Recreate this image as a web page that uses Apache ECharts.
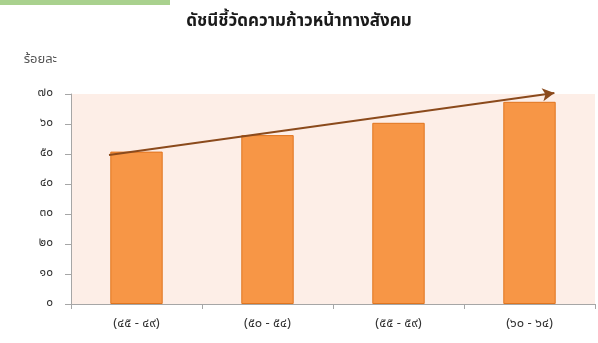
<!DOCTYPE html>
<html>
<head>
<meta charset="utf-8">
<script src="https://cdn.jsdelivr.net/npm/echarts@6/dist/echarts.min.js"></script>
<style>
html,body{margin:0;padding:0;background:#fff;}
#chart{width:598px;height:343px;}
</style>
</head>
<body>
<div id="chart"></div>
<script>
const titleText = 'ดัชนีชี้วัดความก้าวหน้าทางสังคม';
const yAxisName = 'ร้อยละ';
const categories = ['(๔๕ - ๔๙)', '(๕๐ - ๕๔)', '(๕๕ - ๕๙)', '(๖๐ - ๖๔)'];
const values = [50.8, 56.3, 60.4, 67.4];
const yTickValues = [0, 10, 20, 30, 40, 50, 60, 70];
const yTickLabels = ['๐', '๑๐', '๒๐', '๓๐', '๔๐', '๕๐', '๖๐', '๗๐'];
const trendX = [0.29, 3.69];
const trendY = [49.7, 70.3];

const FONT = "'Noto Sans Thai', 'Noto Sans', 'DejaVu Sans', sans-serif";
const ARROW = '#8B4A1C';
const chart = echarts.init(document.getElementById('chart'), null, {renderer: 'canvas'});
function buildOption(rot) {
  return {
    animation: false,
    backgroundColor: '#ffffff',
    title: {
      text: titleText, left: 'center', top: 9,
      textStyle: {fontFamily: FONT, fontSize: 17, fontWeight: 'bold', color: '#1a1a1a'}
    },
    graphic: [{type: 'rect', left: 0, top: 0, shape: {width: 170, height: 5}, style: {fill: '#A9D18E'}}],
    grid: {left: 71, right: 3, top: 94, bottom: 39, show: true, backgroundColor: '#FDEEE7', borderWidth: 0},
    xAxis: [{
      type: 'category', data: categories,
      axisLine: {lineStyle: {color: '#A6A6A6'}},
      axisTick: {show: true, alignWithLabel: false, length: 5, lineStyle: {color: '#A6A6A6'}},
      axisLabel: {fontFamily: FONT, fontSize: 13, color: '#333', margin: 14}
    }, {
      type: 'value', min: 0, max: 4, show: false
    }],
    yAxis: {
      type: 'value', min: 0, max: 70, interval: 10,
      name: yAxisName, nameLocation: 'end', nameGap: 27,
      nameTextStyle: {fontFamily: FONT, fontSize: 13, color: '#555', align: 'right', padding: [0, 14, 0, 0]},
      axisLine: {show: true, lineStyle: {color: '#A6A6A6'}},
      axisTick: {show: true, length: 6, lineStyle: {color: '#A6A6A6'}},
      splitLine: {show: false},
      axisLabel: {
        fontFamily: FONT, fontSize: 12, color: '#333', margin: 18,
        formatter: v => { const i = yTickValues.indexOf(v); return i >= 0 ? yTickLabels[i] : ''; }
      }
    },
    series: [{
      type: 'bar', data: values, barWidth: '40%',
      itemStyle: {color: '#F79646', borderColor: '#E0751F', borderWidth: 1}
    }, {
      type: 'line', xAxisIndex: 1, clip: false,
      data: trendX.map((x, i) => i === trendX.length - 1
        ? {value: [x, trendY[i]], symbol: 'arrow', symbolSize: [10, 12], symbolRotate: rot, symbolKeepAspect: true}
        : {value: [x, trendY[i]], symbol: 'none'}),
      showSymbol: true, showAllSymbol: true,
      itemStyle: {color: ARROW},
      lineStyle: {color: ARROW, width: 2}
    }]
  };
}
chart.setOption(buildOption(0));
const p0 = chart.convertToPixel({xAxisIndex: 1, yAxisIndex: 0}, [trendX[0], trendY[0]]);
const p1 = chart.convertToPixel({xAxisIndex: 1, yAxisIndex: 0}, [trendX[1], trendY[1]]);
const ang = Math.atan2(-(p1[1] - p0[1]), p1[0] - p0[0]) * 180 / Math.PI;
chart.setOption(buildOption(ang - 90));
</script>
</body>
</html>
